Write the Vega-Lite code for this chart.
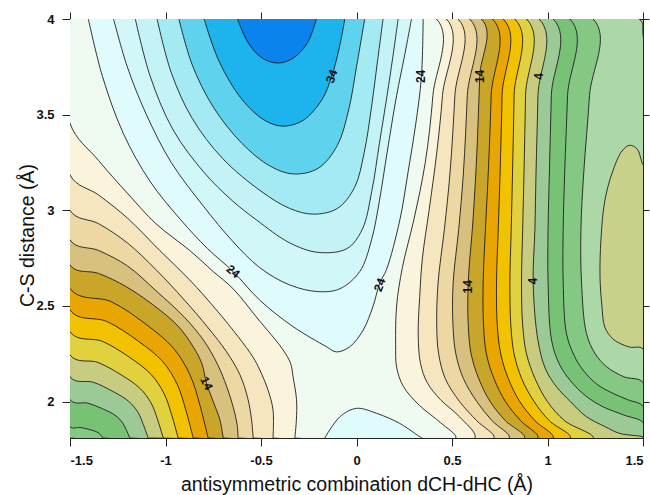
{
"$schema":"https://vega.github.io/schema/vega-lite/v6.json",
"width":573,"height":419,
"autosize":{"type":"none"},
"padding":{"left":70,"top":19,"right":7,"bottom":57},
"config":{"view":{"fill":"#c8d08a","stroke":"#222","strokeWidth":1},
"axis":{"labelFont":"Liberation Sans","labelFontWeight":"bold","labelFontSize":13,"labelColor":"#111","titleFont":"Liberation Sans","titleFontWeight":"normal","titleFontSize":19.5,"titleColor":"#111","tickColor":"#222","tickSize":8,"labelPadding":8,"grid":false,"domain":false}},
"datasets":{
"poly":[
{"p":"n4","l":-4,"i":0,"x":-1.5,"y":1.81},{"p":"n4","l":-4,"i":1,"x":1.5,"y":1.81},{"p":"n4","l":-4,"i":2,"x":1.5,"y":2.275},{"p":"n4","l":-4,"i":3,"x":1.43,"y":2.285},{"p":"n4","l":-4,"i":4,"x":1.378,"y":2.305},{"p":"n4","l":-4,"i":5,"x":1.34,"y":2.33},{"p":"n4","l":-4,"i":6,"x":1.3,"y":2.39},{"p":"n4","l":-4,"i":7,"x":1.285,"y":2.5},{"p":"n4","l":-4,"i":8,"x":1.275,"y":2.65},{"p":"n4","l":-4,"i":9,"x":1.28,"y":2.85},{"p":"n4","l":-4,"i":10,"x":1.3,"y":3.05},{"p":"n4","l":-4,"i":11,"x":1.34,"y":3.2},{"p":"n4","l":-4,"i":12,"x":1.39,"y":3.31},{"p":"n4","l":-4,"i":13,"x":1.43,"y":3.34},{"p":"n4","l":-4,"i":14,"x":1.47,"y":3.32},{"p":"n4","l":-4,"i":15,"x":1.5,"y":3.24},{"p":"n4","l":-4,"i":16,"x":1.5,"y":3.92},{"p":"n4","l":-4,"i":17,"x":1.48,"y":4},{"p":"n4","l":-4,"i":18,"x":-1.5,"y":4},
{"p":"n2","l":-2,"i":0,"x":-1.5,"y":1.81},{"p":"n2","l":-2,"i":1,"x":1.5,"y":1.81},{"p":"n2","l":-2,"i":2,"x":1.5,"y":2.1},{"p":"n2","l":-2,"i":3,"x":1.4,"y":2.13},{"p":"n2","l":-2,"i":4,"x":1.309,"y":2.183},{"p":"n2","l":-2,"i":5,"x":1.25,"y":2.25},{"p":"n2","l":-2,"i":6,"x":1.204,"y":2.357},{"p":"n2","l":-2,"i":7,"x":1.178,"y":2.627},{"p":"n2","l":-2,"i":8,"x":1.175,"y":2.9},{"p":"n2","l":-2,"i":9,"x":1.19,"y":3.2},{"p":"n2","l":-2,"i":10,"x":1.22,"y":3.6},{"p":"n2","l":-2,"i":11,"x":1.239,"y":4},{"p":"n2","l":-2,"i":12,"x":-1.5,"y":4},
{"p":"p0","l":0,"i":0,"x":-1.327,"y":1.81},{"p":"p0","l":0,"i":1,"x":1.5,"y":1.81},{"p":"p0","l":0,"i":2,"x":1.5,"y":1.975},{"p":"p0","l":0,"i":3,"x":1.42,"y":2.01},{"p":"p0","l":0,"i":4,"x":1.343,"y":2.043},{"p":"p0","l":0,"i":5,"x":1.26,"y":2.09},{"p":"p0","l":0,"i":6,"x":1.186,"y":2.165},{"p":"p0","l":0,"i":7,"x":1.14,"y":2.24},{"p":"p0","l":0,"i":8,"x":1.099,"y":2.357},{"p":"p0","l":0,"i":9,"x":1.082,"y":2.627},{"p":"p0","l":0,"i":10,"x":1.082,"y":2.9},{"p":"p0","l":0,"i":11,"x":1.09,"y":3.2},{"p":"p0","l":0,"i":12,"x":1.105,"y":3.6},{"p":"p0","l":0,"i":13,"x":1.117,"y":4},{"p":"p0","l":0,"i":14,"x":-1.5,"y":4},{"p":"p0","l":0,"i":15,"x":-1.5,"y":1.87},{"p":"p0","l":0,"i":16,"x":-1.448,"y":1.865},{"p":"p0","l":0,"i":17,"x":-1.405,"y":1.856},{"p":"p0","l":0,"i":18,"x":-1.37,"y":1.846},{"p":"p0","l":0,"i":19,"x":-1.349,"y":1.835},{"p":"p0","l":0,"i":20,"x":-1.337,"y":1.823},{"p":"p0","l":0,"i":21,"x":-1.327,"y":1.81},
{"p":"p2","l":2,"i":0,"x":-1.187,"y":1.81},{"p":"p2","l":2,"i":1,"x":1.5,"y":1.81},{"p":"p2","l":2,"i":2,"x":1.5,"y":1.89},{"p":"p2","l":2,"i":3,"x":1.4,"y":1.93},{"p":"p2","l":2,"i":4,"x":1.291,"y":1.973},{"p":"p2","l":2,"i":5,"x":1.2,"y":2.03},{"p":"p2","l":2,"i":6,"x":1.117,"y":2.113},{"p":"p2","l":2,"i":7,"x":1.06,"y":2.2},{"p":"p2","l":2,"i":8,"x":1.021,"y":2.322},{"p":"p2","l":2,"i":9,"x":1.003,"y":2.627},{"p":"p2","l":2,"i":10,"x":1.003,"y":2.9},{"p":"p2","l":2,"i":11,"x":1.01,"y":3.2},{"p":"p2","l":2,"i":12,"x":1.02,"y":3.6},{"p":"p2","l":2,"i":13,"x":1.03,"y":4},{"p":"p2","l":2,"i":14,"x":-1.5,"y":4},{"p":"p2","l":2,"i":15,"x":-1.5,"y":2.01},{"p":"p2","l":2,"i":16,"x":-1.406,"y":1.992},{"p":"p2","l":2,"i":17,"x":-1.328,"y":1.962},{"p":"p2","l":2,"i":18,"x":-1.265,"y":1.93},{"p":"p2","l":2,"i":19,"x":-1.228,"y":1.894},{"p":"p2","l":2,"i":20,"x":-1.206,"y":1.854},{"p":"p2","l":2,"i":21,"x":-1.187,"y":1.81},
{"p":"p4","l":4,"i":0,"x":-1.091,"y":1.81},{"p":"p4","l":4,"i":1,"x":1.5,"y":1.81},{"p":"p4","l":4,"i":2,"x":1.5,"y":1.815},{"p":"p4","l":4,"i":3,"x":1.378,"y":1.834},{"p":"p4","l":4,"i":4,"x":1.3,"y":1.87},{"p":"p4","l":4,"i":5,"x":1.204,"y":1.921},{"p":"p4","l":4,"i":6,"x":1.12,"y":2.0},{"p":"p4","l":4,"i":7,"x":1.047,"y":2.078},{"p":"p4","l":4,"i":8,"x":0.99,"y":2.17},{"p":"p4","l":4,"i":9,"x":0.95,"y":2.32},{"p":"p4","l":4,"i":10,"x":0.925,"y":2.62},{"p":"p4","l":4,"i":11,"x":0.934,"y":2.9},{"p":"p4","l":4,"i":12,"x":0.94,"y":3.2},{"p":"p4","l":4,"i":13,"x":0.95,"y":3.6},{"p":"p4","l":4,"i":14,"x":0.956,"y":4},{"p":"p4","l":4,"i":15,"x":-1.5,"y":4},{"p":"p4","l":4,"i":16,"x":-1.5,"y":2.13},{"p":"p4","l":4,"i":17,"x":-1.377,"y":2.101},{"p":"p4","l":4,"i":18,"x":-1.275,"y":2.053},{"p":"p4","l":4,"i":19,"x":-1.193,"y":2.002},{"p":"p4","l":4,"i":20,"x":-1.144,"y":1.944},{"p":"p4","l":4,"i":21,"x":-1.116,"y":1.88},{"p":"p4","l":4,"i":22,"x":-1.091,"y":1.81},
{"p":"p6","l":6,"i":0,"x":-1.012,"y":1.81},{"p":"p6","l":6,"i":1,"x":1.24,"y":1.81},{"p":"p6","l":6,"i":2,"x":1.09,"y":1.9},{"p":"p6","l":6,"i":3,"x":1.0,"y":2.0},{"p":"p6","l":6,"i":4,"x":0.935,"y":2.12},{"p":"p6","l":6,"i":5,"x":0.89,"y":2.25},{"p":"p6","l":6,"i":6,"x":0.87,"y":2.4},{"p":"p6","l":6,"i":7,"x":0.864,"y":2.62},{"p":"p6","l":6,"i":8,"x":0.87,"y":2.9},{"p":"p6","l":6,"i":9,"x":0.877,"y":3.2},{"p":"p6","l":6,"i":10,"x":0.885,"y":3.6},{"p":"p6","l":6,"i":11,"x":0.89,"y":4},{"p":"p6","l":6,"i":12,"x":-1.5,"y":4},{"p":"p6","l":6,"i":13,"x":-1.5,"y":2.244},{"p":"p6","l":6,"i":14,"x":-1.354,"y":2.205},{"p":"p6","l":6,"i":15,"x":-1.232,"y":2.14},{"p":"p6","l":6,"i":16,"x":-1.134,"y":2.07},{"p":"p6","l":6,"i":17,"x":-1.075,"y":1.992},{"p":"p6","l":6,"i":18,"x":-1.041,"y":1.905},{"p":"p6","l":6,"i":19,"x":-1.012,"y":1.81},
{"p":"p8","l":8,"i":0,"x":-0.934,"y":1.81},{"p":"p8","l":8,"i":1,"x":1.12,"y":1.81},{"p":"p8","l":8,"i":2,"x":1.01,"y":1.9},{"p":"p8","l":8,"i":3,"x":0.93,"y":2.0},{"p":"p8","l":8,"i":4,"x":0.865,"y":2.12},{"p":"p8","l":8,"i":5,"x":0.825,"y":2.25},{"p":"p8","l":8,"i":6,"x":0.808,"y":2.4},{"p":"p8","l":8,"i":7,"x":0.803,"y":2.62},{"p":"p8","l":8,"i":8,"x":0.81,"y":2.9},{"p":"p8","l":8,"i":9,"x":0.817,"y":3.2},{"p":"p8","l":8,"i":10,"x":0.825,"y":3.6},{"p":"p8","l":8,"i":11,"x":0.829,"y":4},{"p":"p8","l":8,"i":12,"x":-1.5,"y":4},{"p":"p8","l":8,"i":13,"x":-1.5,"y":2.365},{"p":"p8","l":8,"i":14,"x":-1.33,"y":2.315},{"p":"p8","l":8,"i":15,"x":-1.189,"y":2.232},{"p":"p8","l":8,"i":16,"x":-1.076,"y":2.143},{"p":"p8","l":8,"i":17,"x":-1.008,"y":2.043},{"p":"p8","l":8,"i":18,"x":-0.968,"y":1.932},{"p":"p8","l":8,"i":19,"x":-0.934,"y":1.81},
{"p":"p10","l":10,"i":0,"x":-0.855,"y":1.81},{"p":"p10","l":10,"i":1,"x":1.03,"y":1.81},{"p":"p10","l":10,"i":2,"x":0.935,"y":1.9},{"p":"p10","l":10,"i":3,"x":0.855,"y":2.0},{"p":"p10","l":10,"i":4,"x":0.795,"y":2.12},{"p":"p10","l":10,"i":5,"x":0.755,"y":2.25},{"p":"p10","l":10,"i":6,"x":0.737,"y":2.4},{"p":"p10","l":10,"i":7,"x":0.733,"y":2.62},{"p":"p10","l":10,"i":8,"x":0.742,"y":2.9},{"p":"p10","l":10,"i":9,"x":0.752,"y":3.2},{"p":"p10","l":10,"i":10,"x":0.762,"y":3.6},{"p":"p10","l":10,"i":11,"x":0.768,"y":4},{"p":"p10","l":10,"i":12,"x":-1.5,"y":4},{"p":"p10","l":10,"i":13,"x":-1.5,"y":2.479},{"p":"p10","l":10,"i":14,"x":-1.307,"y":2.419},{"p":"p10","l":10,"i":15,"x":-1.145,"y":2.318},{"p":"p10","l":10,"i":16,"x":-1.016,"y":2.211},{"p":"p10","l":10,"i":17,"x":-0.939,"y":2.091},{"p":"p10","l":10,"i":18,"x":-0.894,"y":1.957},{"p":"p10","l":10,"i":19,"x":-0.855,"y":1.81},
{"p":"p12","l":12,"i":0,"x":-0.777,"y":1.81},{"p":"p12","l":12,"i":1,"x":0.95,"y":1.81},{"p":"p12","l":12,"i":2,"x":0.86,"y":1.9},{"p":"p12","l":12,"i":3,"x":0.78,"y":2.0},{"p":"p12","l":12,"i":4,"x":0.72,"y":2.12},{"p":"p12","l":12,"i":5,"x":0.68,"y":2.25},{"p":"p12","l":12,"i":6,"x":0.665,"y":2.4},{"p":"p12","l":12,"i":7,"x":0.663,"y":2.62},{"p":"p12","l":12,"i":8,"x":0.675,"y":2.9},{"p":"p12","l":12,"i":9,"x":0.69,"y":3.2},{"p":"p12","l":12,"i":10,"x":0.705,"y":3.6},{"p":"p12","l":12,"i":11,"x":0.712,"y":4},{"p":"p12","l":12,"i":12,"x":-1.5,"y":4},{"p":"p12","l":12,"i":13,"x":-1.5,"y":2.592},{"p":"p12","l":12,"i":14,"x":-1.283,"y":2.522},{"p":"p12","l":12,"i":15,"x":-1.102,"y":2.404},{"p":"p12","l":12,"i":16,"x":-0.958,"y":2.279},{"p":"p12","l":12,"i":17,"x":-0.871,"y":2.138},{"p":"p12","l":12,"i":18,"x":-0.82,"y":1.982},{"p":"p12","l":12,"i":19,"x":-0.777,"y":1.81},
{"p":"p14","l":14,"i":0,"x":-0.698,"y":1.81},{"p":"p14","l":14,"i":1,"x":0.88,"y":1.81},{"p":"p14","l":14,"i":2,"x":0.78,"y":1.9},{"p":"p14","l":14,"i":3,"x":0.7,"y":2.0},{"p":"p14","l":14,"i":4,"x":0.64,"y":2.12},{"p":"p14","l":14,"i":5,"x":0.6,"y":2.25},{"p":"p14","l":14,"i":6,"x":0.585,"y":2.4},{"p":"p14","l":14,"i":7,"x":0.585,"y":2.62},{"p":"p14","l":14,"i":8,"x":0.61,"y":2.95},{"p":"p14","l":14,"i":9,"x":0.63,"y":3.3},{"p":"p14","l":14,"i":10,"x":0.645,"y":3.7},{"p":"p14","l":14,"i":11,"x":0.654,"y":4},{"p":"p14","l":14,"i":12,"x":-1.5,"y":4},{"p":"p14","l":14,"i":13,"x":-1.5,"y":2.714},{"p":"p14","l":14,"i":14,"x":-1.35,"y":2.67},{"p":"p14","l":14,"i":15,"x":-1.204,"y":2.6},{"p":"p14","l":14,"i":16,"x":-1.03,"y":2.479},{"p":"p14","l":14,"i":17,"x":-0.93,"y":2.39},{"p":"p14","l":14,"i":18,"x":-0.855,"y":2.287},{"p":"p14","l":14,"i":19,"x":-0.81,"y":2.2},{"p":"p14","l":14,"i":20,"x":-0.785,"y":2.096},{"p":"p14","l":14,"i":21,"x":-0.75,"y":2.0},{"p":"p14","l":14,"i":22,"x":-0.715,"y":1.904},{"p":"p14","l":14,"i":23,"x":-0.698,"y":1.81},
{"p":"p16","l":16,"i":0,"x":-0.62,"y":1.81},{"p":"p16","l":16,"i":1,"x":0.8,"y":1.81},{"p":"p16","l":16,"i":2,"x":0.71,"y":1.9},{"p":"p16","l":16,"i":3,"x":0.63,"y":2.0},{"p":"p16","l":16,"i":4,"x":0.56,"y":2.12},{"p":"p16","l":16,"i":5,"x":0.52,"y":2.25},{"p":"p16","l":16,"i":6,"x":0.505,"y":2.4},{"p":"p16","l":16,"i":7,"x":0.506,"y":2.62},{"p":"p16","l":16,"i":8,"x":0.535,"y":2.9},{"p":"p16","l":16,"i":9,"x":0.56,"y":3.2},{"p":"p16","l":16,"i":10,"x":0.58,"y":3.6},{"p":"p16","l":16,"i":11,"x":0.593,"y":4},{"p":"p16","l":16,"i":12,"x":-1.5,"y":4},{"p":"p16","l":16,"i":13,"x":-1.5,"y":2.845},{"p":"p16","l":16,"i":14,"x":-1.35,"y":2.79},{"p":"p16","l":16,"i":15,"x":-1.2,"y":2.71},{"p":"p16","l":16,"i":16,"x":-1.05,"y":2.58},{"p":"p16","l":16,"i":17,"x":-0.9,"y":2.44},{"p":"p16","l":16,"i":18,"x":-0.8,"y":2.32},{"p":"p16","l":16,"i":19,"x":-0.73,"y":2.2},{"p":"p16","l":16,"i":20,"x":-0.68,"y":2.08},{"p":"p16","l":16,"i":21,"x":-0.645,"y":1.97},{"p":"p16","l":16,"i":22,"x":-0.625,"y":1.88},{"p":"p16","l":16,"i":23,"x":-0.62,"y":1.81},
{"p":"p18","l":18,"i":0,"x":-0.541,"y":1.81},{"p":"p18","l":18,"i":1,"x":0.72,"y":1.81},{"p":"p18","l":18,"i":2,"x":0.63,"y":1.9},{"p":"p18","l":18,"i":3,"x":0.54,"y":2.0},{"p":"p18","l":18,"i":4,"x":0.465,"y":2.12},{"p":"p18","l":18,"i":5,"x":0.43,"y":2.25},{"p":"p18","l":18,"i":6,"x":0.42,"y":2.4},{"p":"p18","l":18,"i":7,"x":0.427,"y":2.62},{"p":"p18","l":18,"i":8,"x":0.46,"y":2.9},{"p":"p18","l":18,"i":9,"x":0.49,"y":3.2},{"p":"p18","l":18,"i":10,"x":0.515,"y":3.6},{"p":"p18","l":18,"i":11,"x":0.532,"y":4},{"p":"p18","l":18,"i":12,"x":-1.5,"y":4},{"p":"p18","l":18,"i":13,"x":-1.5,"y":3.0},{"p":"p18","l":18,"i":14,"x":-1.35,"y":2.93},{"p":"p18","l":18,"i":15,"x":-1.2,"y":2.83},{"p":"p18","l":18,"i":16,"x":-1.05,"y":2.69},{"p":"p18","l":18,"i":17,"x":-0.9,"y":2.53},{"p":"p18","l":18,"i":18,"x":-0.78,"y":2.39},{"p":"p18","l":18,"i":19,"x":-0.68,"y":2.26},{"p":"p18","l":18,"i":20,"x":-0.61,"y":2.14},{"p":"p18","l":18,"i":21,"x":-0.57,"y":2.02},{"p":"p18","l":18,"i":22,"x":-0.55,"y":1.91},{"p":"p18","l":18,"i":23,"x":-0.541,"y":1.81},
{"p":"p20","l":20,"i":0,"x":-0.437,"y":1.81},{"p":"p20","l":20,"i":1,"x":0.62,"y":1.81},{"p":"p20","l":20,"i":2,"x":0.54,"y":1.92},{"p":"p20","l":20,"i":3,"x":0.44,"y":2.01},{"p":"p20","l":20,"i":4,"x":0.37,"y":2.1},{"p":"p20","l":20,"i":5,"x":0.335,"y":2.2},{"p":"p20","l":20,"i":6,"x":0.323,"y":2.35},{"p":"p20","l":20,"i":7,"x":0.331,"y":2.55},{"p":"p20","l":20,"i":8,"x":0.345,"y":2.75},{"p":"p20","l":20,"i":9,"x":0.38,"y":3.0},{"p":"p20","l":20,"i":10,"x":0.42,"y":3.3},{"p":"p20","l":20,"i":11,"x":0.45,"y":3.6},{"p":"p20","l":20,"i":12,"x":0.471,"y":4},{"p":"p20","l":20,"i":13,"x":-1.5,"y":4},{"p":"p20","l":20,"i":14,"x":-1.5,"y":3.185},{"p":"p20","l":20,"i":15,"x":-1.35,"y":3.08},{"p":"p20","l":20,"i":16,"x":-1.2,"y":2.96},{"p":"p20","l":20,"i":17,"x":-1.03,"y":2.79},{"p":"p20","l":20,"i":18,"x":-0.873,"y":2.636},{"p":"p20","l":20,"i":19,"x":-0.733,"y":2.479},{"p":"p20","l":20,"i":20,"x":-0.62,"y":2.34},{"p":"p20","l":20,"i":21,"x":-0.54,"y":2.23},{"p":"p20","l":20,"i":22,"x":-0.506,"y":2.165},{"p":"p20","l":20,"i":23,"x":-0.463,"y":2.06},{"p":"p20","l":20,"i":24,"x":-0.437,"y":1.956},{"p":"p20","l":20,"i":25,"x":-0.437,"y":1.81},
{"p":"p22","l":22,"i":0,"x":-0.323,"y":1.81},{"p":"p22","l":22,"i":1,"x":0.52,"y":1.81},{"p":"p22","l":22,"i":2,"x":0.44,"y":1.89},{"p":"p22","l":22,"i":3,"x":0.33,"y":1.98},{"p":"p22","l":22,"i":4,"x":0.245,"y":2.08},{"p":"p22","l":22,"i":5,"x":0.21,"y":2.18},{"p":"p22","l":22,"i":6,"x":0.205,"y":2.3},{"p":"p22","l":22,"i":7,"x":0.21,"y":2.5},{"p":"p22","l":22,"i":8,"x":0.24,"y":2.7},{"p":"p22","l":22,"i":9,"x":0.3,"y":2.95},{"p":"p22","l":22,"i":10,"x":0.36,"y":3.25},{"p":"p22","l":22,"i":11,"x":0.4,"y":3.6},{"p":"p22","l":22,"i":12,"x":0.419,"y":4},{"p":"p22","l":22,"i":13,"x":-1.5,"y":4},{"p":"p22","l":22,"i":14,"x":-1.5,"y":3.455},{"p":"p22","l":22,"i":15,"x":-1.35,"y":3.26},{"p":"p22","l":22,"i":16,"x":-1.2,"y":3.09},{"p":"p22","l":22,"i":17,"x":-1.05,"y":2.93},{"p":"p22","l":22,"i":18,"x":-0.873,"y":2.79},{"p":"p22","l":22,"i":19,"x":-0.75,"y":2.68},{"p":"p22","l":22,"i":20,"x":-0.646,"y":2.59},{"p":"p22","l":22,"i":21,"x":-0.506,"y":2.42},{"p":"p22","l":22,"i":22,"x":-0.43,"y":2.33},{"p":"p22","l":22,"i":23,"x":-0.384,"y":2.27},{"p":"p22","l":22,"i":24,"x":-0.345,"y":2.2},{"p":"p22","l":22,"i":25,"x":-0.332,"y":2.13},{"p":"p22","l":22,"i":26,"x":-0.314,"y":2.01},{"p":"p22","l":22,"i":27,"x":-0.315,"y":1.9},{"p":"p22","l":22,"i":28,"x":-0.323,"y":1.81},
{"p":"p24a","l":24,"i":0,"x":-1.404,"y":4},{"p":"p24a","l":24,"i":1,"x":-1.33,"y":3.7},{"p":"p24a","l":24,"i":2,"x":-1.22,"y":3.4},{"p":"p24a","l":24,"i":3,"x":-1.08,"y":3.15},{"p":"p24a","l":24,"i":4,"x":-0.92,"y":2.95},{"p":"p24a","l":24,"i":5,"x":-0.78,"y":2.8},{"p":"p24a","l":24,"i":6,"x":-0.646,"y":2.68},{"p":"p24a","l":24,"i":7,"x":-0.506,"y":2.53},{"p":"p24a","l":24,"i":8,"x":-0.332,"y":2.392},{"p":"p24a","l":24,"i":9,"x":-0.157,"y":2.287},{"p":"p24a","l":24,"i":10,"x":-0.105,"y":2.26},{"p":"p24a","l":24,"i":11,"x":-0.035,"y":2.287},{"p":"p24a","l":24,"i":12,"x":0.035,"y":2.374},{"p":"p24a","l":24,"i":13,"x":0.087,"y":2.5},{"p":"p24a","l":24,"i":14,"x":0.122,"y":2.62},{"p":"p24a","l":24,"i":15,"x":0.157,"y":2.69},{"p":"p24a","l":24,"i":16,"x":0.227,"y":2.95},{"p":"p24a","l":24,"i":17,"x":0.27,"y":3.2},{"p":"p24a","l":24,"i":18,"x":0.31,"y":3.45},{"p":"p24a","l":24,"i":19,"x":0.34,"y":3.7},{"p":"p24a","l":24,"i":20,"x":0.349,"y":4},
{"p":"p24b","l":24,"i":0,"x":-0.166,"y":1.81},{"p":"p24b","l":24,"i":1,"x":-0.087,"y":1.921},{"p":"p24b","l":24,"i":2,"x":0.0,"y":1.965},{"p":"p24b","l":24,"i":3,"x":0.105,"y":1.939},{"p":"p24b","l":24,"i":4,"x":0.227,"y":1.886},{"p":"p24b","l":24,"i":5,"x":0.331,"y":1.817},{"p":"p24b","l":24,"i":6,"x":0.345,"y":1.81},
{"p":"p26","l":26,"i":0,"x":-1.272,"y":4},{"p":"p26","l":26,"i":1,"x":-1.2,"y":3.75},{"p":"p26","l":26,"i":2,"x":-1.1,"y":3.5},{"p":"p26","l":26,"i":3,"x":-0.97,"y":3.25},{"p":"p26","l":26,"i":4,"x":-0.8,"y":3.02},{"p":"p26","l":26,"i":5,"x":-0.65,"y":2.84},{"p":"p26","l":26,"i":6,"x":-0.506,"y":2.7},{"p":"p26","l":26,"i":7,"x":-0.35,"y":2.61},{"p":"p26","l":26,"i":8,"x":-0.2,"y":2.575},{"p":"p26","l":26,"i":9,"x":-0.087,"y":2.59},{"p":"p26","l":26,"i":10,"x":0.017,"y":2.68},{"p":"p26","l":26,"i":11,"x":0.079,"y":2.846},{"p":"p26","l":26,"i":12,"x":0.12,"y":3.05},{"p":"p26","l":26,"i":13,"x":0.16,"y":3.3},{"p":"p26","l":26,"i":14,"x":0.21,"y":3.6},{"p":"p26","l":26,"i":15,"x":0.25,"y":3.8},{"p":"p26","l":26,"i":16,"x":0.288,"y":4},
{"p":"p28","l":28,"i":0,"x":-1.158,"y":4},{"p":"p28","l":28,"i":1,"x":-1.08,"y":3.7},{"p":"p28","l":28,"i":2,"x":-0.96,"y":3.42},{"p":"p28","l":28,"i":3,"x":-0.8,"y":3.2},{"p":"p28","l":28,"i":4,"x":-0.65,"y":3.05},{"p":"p28","l":28,"i":5,"x":-0.524,"y":2.95},{"p":"p28","l":28,"i":6,"x":-0.35,"y":2.83},{"p":"p28","l":28,"i":7,"x":-0.2,"y":2.78},{"p":"p28","l":28,"i":8,"x":-0.05,"y":2.8},{"p":"p28","l":28,"i":9,"x":0.03,"y":2.9},{"p":"p28","l":28,"i":10,"x":0.08,"y":3.1},{"p":"p28","l":28,"i":11,"x":0.12,"y":3.35},{"p":"p28","l":28,"i":12,"x":0.16,"y":3.6},{"p":"p28","l":28,"i":13,"x":0.19,"y":3.8},{"p":"p28","l":28,"i":14,"x":0.218,"y":4},
{"p":"p30","l":30,"i":0,"x":-1.044,"y":4},{"p":"p30","l":30,"i":1,"x":-0.97,"y":3.72},{"p":"p30","l":30,"i":2,"x":-0.86,"y":3.48},{"p":"p30","l":30,"i":3,"x":-0.7,"y":3.27},{"p":"p30","l":30,"i":4,"x":-0.5,"y":3.1},{"p":"p30","l":30,"i":5,"x":-0.35,"y":3.01},{"p":"p30","l":30,"i":6,"x":-0.227,"y":2.98},{"p":"p30","l":30,"i":7,"x":-0.1,"y":3.01},{"p":"p30","l":30,"i":8,"x":-0.01,"y":3.12},{"p":"p30","l":30,"i":9,"x":0.04,"y":3.3},{"p":"p30","l":30,"i":10,"x":0.08,"y":3.55},{"p":"p30","l":30,"i":11,"x":0.11,"y":3.78},{"p":"p30","l":30,"i":12,"x":0.139,"y":4},
{"p":"p32","l":32,"i":0,"x":-0.93,"y":4},{"p":"p32","l":32,"i":1,"x":-0.86,"y":3.76},{"p":"p32","l":32,"i":2,"x":-0.75,"y":3.54},{"p":"p32","l":32,"i":3,"x":-0.6,"y":3.35},{"p":"p32","l":32,"i":4,"x":-0.45,"y":3.23},{"p":"p32","l":32,"i":5,"x":-0.33,"y":3.19},{"p":"p32","l":32,"i":6,"x":-0.2,"y":3.22},{"p":"p32","l":32,"i":7,"x":-0.1,"y":3.34},{"p":"p32","l":32,"i":8,"x":-0.04,"y":3.53},{"p":"p32","l":32,"i":9,"x":0.0,"y":3.75},{"p":"p32","l":32,"i":10,"x":0.043,"y":4},
{"p":"p34","l":34,"i":0,"x":-0.798,"y":4},{"p":"p34","l":34,"i":1,"x":-0.72,"y":3.78},{"p":"p34","l":34,"i":2,"x":-0.6,"y":3.58},{"p":"p34","l":34,"i":3,"x":-0.48,"y":3.47},{"p":"p34","l":34,"i":4,"x":-0.386,"y":3.44},{"p":"p34","l":34,"i":5,"x":-0.28,"y":3.47},{"p":"p34","l":34,"i":6,"x":-0.18,"y":3.58},{"p":"p34","l":34,"i":7,"x":-0.13,"y":3.7},{"p":"p34","l":34,"i":8,"x":-0.09,"y":3.85},{"p":"p34","l":34,"i":9,"x":-0.061,"y":4},
{"p":"p36","l":36,"i":0,"x":-0.623,"y":4},{"p":"p36","l":36,"i":1,"x":-0.57,"y":3.88},{"p":"p36","l":36,"i":2,"x":-0.5,"y":3.8},{"p":"p36","l":36,"i":3,"x":-0.42,"y":3.77},{"p":"p36","l":36,"i":4,"x":-0.34,"y":3.79},{"p":"p36","l":36,"i":5,"x":-0.26,"y":3.87},{"p":"p36","l":36,"i":6,"x":-0.21,"y":4}
],
"lab":[
{"g":"v","x":0.34,"y":3.7,"t":"24"},{"g":"v","x":0.648,"y":3.7,"t":"14"},{"g":"v","x":0.955,"y":3.7,"t":"4"},{"g":"v","x":0.585,"y":2.6,"t":"14"},{"g":"v","x":0.925,"y":2.63,"t":"4"},
{"g":"s","x":-0.13,"y":3.7,"t":"34"},{"g":"s","x":0.122,"y":2.61,"t":"24"},
{"g":"d","x":-0.646,"y":2.68,"t":"24"},
{"g":"b","x":-0.785,"y":2.096,"t":"14"}
]},
"resolve":{"axis":{"x":"independent","y":"independent"}},
"layer":[
{"data":{"name":"poly"},
"mark":{"type":"line","stroke":"#1e1e1e","strokeWidth":0.9,"clip":true,"interpolate":"catmull-rom","strokeJoin":"round"},
"encoding":{
"x":{"field":"x","type":"quantitative","scale":{"domain":[-1.5,1.5],"nice":false,"zero":false},
"axis":{"orient":"bottom","values":[-1.5,-1,-0.5,0,0.5,1,1.5],"labelExpr":"datum.value < 0 ? '-' + format(-datum.value, '~g') : format(datum.value, '~g')","title":"antisymmetric combination dCH-dHC (Å)","titleBaseline":"alphabetic","titleY":52}},
"y":{"field":"y","type":"quantitative","scale":{"domain":[1.81,4],"nice":false,"zero":false},
"axis":{"orient":"left","values":[2,2.5,3,3.5,4],"labelExpr":"format(datum.value, '~g')","title":"C-S distance (Å)","titleBaseline":"alphabetic","titleX":-37,"titleY":216,"titleAlign":"center","titleAngle":270}},
"fill":{"field":"l","type":"ordinal","legend":null,"scale":{"type":"ordinal","domain":[-4,-2,0,2,4,6,8,10,12,14,16,18,20,22,24,26,28,30,32,34,36],"range":["#acd8a8","#84c884","#78c276","#9cca96","#c8cc80","#e2d13e","#f2c200","#e9a602","#c9a52a","#d8c17e","#edd7a2","#f6e6bf","#fbf4dc","#effaf1","#e0fbfb","#d2f7f9","#c4f3f7","#a4eaf3","#5fd3ee","#1db3ec","#0a84ec"]}},
"detail":{"field":"p","type":"nominal"},
"order":{"field":"i","type":"quantitative"}}},
{"data":{"name":"lab"},"transform":[{"filter":"datum.g == 'v'"}],
"mark":{"type":"text","angle":270,"font":"Liberation Sans","fontWeight":"bold","fontSize":12,"color":"#111"},
"encoding":{"x":{"field":"x","type":"quantitative","scale":{"domain":[-1.5,1.5],"nice":false,"zero":false},"axis":{"orient":"top","values":[-1.5,-1,-0.5,0,0.5,1,1.5],"labels":false,"title":null,"tickSize":7}},
"y":{"field":"y","type":"quantitative","scale":{"domain":[1.81,4],"nice":false,"zero":false},"axis":{"orient":"right","values":[2,2.5,3,3.5,4],"labels":false,"title":null,"tickSize":6}},
"text":{"field":"t"}}},
{"data":{"name":"lab"},"transform":[{"filter":"datum.g == 's'"}],
"mark":{"type":"text","angle":290,"font":"Liberation Sans","fontWeight":"bold","fontSize":12,"color":"#111"},
"encoding":{"x":{"field":"x","type":"quantitative","axis":null},"y":{"field":"y","type":"quantitative","axis":null},"text":{"field":"t"}}},
{"data":{"name":"lab"},"transform":[{"filter":"datum.g == 'd'"}],
"mark":{"type":"text","angle":40,"font":"Liberation Sans","fontWeight":"bold","fontSize":12,"color":"#111"},
"encoding":{"x":{"field":"x","type":"quantitative","axis":null},"y":{"field":"y","type":"quantitative","axis":null},"text":{"field":"t"}}},
{"data":{"name":"lab"},"transform":[{"filter":"datum.g == 'b'"}],
"mark":{"type":"text","angle":65,"font":"Liberation Sans","fontWeight":"bold","fontSize":12,"color":"#111"},
"encoding":{"x":{"field":"x","type":"quantitative","axis":null},"y":{"field":"y","type":"quantitative","axis":null},"text":{"field":"t"}}}
]
}
